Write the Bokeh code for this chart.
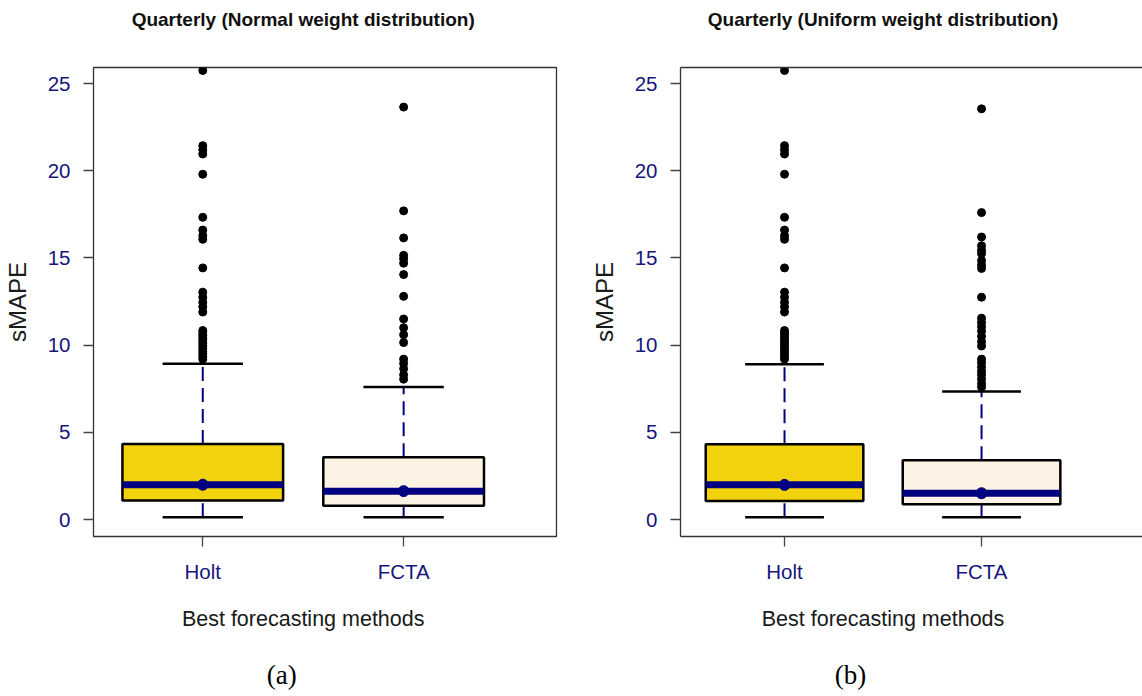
from bokeh.plotting import figure
from bokeh.layouts import row
from bokeh.models import FixedTicker, Range1d, LinearAxis
from bokeh.embed import file_html
from bokeh.resources import INLINE

# ---------------- data ----------------
categories = ["Holt", "FCTA"]
panel_titles = ["Quarterly (Normal weight distribution)", "Quarterly (Uniform weight distribution)"]
panel_tags = ["(a)", "(b)"]
x_title = "Best forecasting methods"
y_title = "sMAPE"
y_ticks = [0, 5, 10, 15, 20, 25]

# box statistics per panel: [Holt, FCTA]
a_lower = [0.13, 0.13]
a_q1 = [1.09, 0.79]
a_median = [2.00, 1.63]
a_q3 = [4.33, 3.58]
a_upper = [8.93, 7.60]

b_lower = [0.13, 0.13]
b_q1 = [1.07, 0.88]
b_median = [1.99, 1.51]
b_q3 = [4.32, 3.40]
b_upper = [8.91, 7.34]

holt_outliers = [25.75, 21.44, 21.2, 20.96, 19.8, 17.33, 16.6, 16.28, 16.07, 14.43,
                 13.04, 12.75, 12.46, 12.2, 11.9, 10.84, 10.7, 10.55, 10.4, 10.25,
                 10.1, 9.95, 9.8, 9.65, 9.5, 9.35, 9.2]
a_fcta_outliers = [23.65, 17.7, 16.15, 15.15, 14.95, 14.7, 14.05, 12.8, 11.5, 11.0,
                   10.6, 10.15, 9.2, 8.95, 8.65, 8.3, 8.05]
b_fcta_outliers = [23.55, 17.6, 16.2, 15.7, 15.45, 15.25, 14.85, 14.6, 14.4, 12.75,
                   11.55, 11.3, 11.05, 10.8, 10.5, 10.2, 9.95, 9.2, 9.0, 8.75,
                   8.5, 8.3, 8.05, 7.8, 7.6]

box_colors = ["#F2D20C", "#FDF3E5"]
NAVY = "#000080"
TICK_TEXT = "#16167C"
FONT = "Liberation Sans"


def text_axis(pos, text, font, size, style, standoff, color, line_color=None):
    """An axis with a single labelled tick, used to place caption texts."""
    ax = LinearAxis(ticker=FixedTicker(ticks=[pos]),
                    major_label_overrides={pos: text},
                    axis_line_color=line_color, axis_line_width=1.3,
                    major_tick_line_color=None, minor_tick_line_color=None,
                    major_tick_out=0, major_tick_in=0,
                    major_label_text_font=font, major_label_text_font_size=size,
                    major_label_text_font_style=style,
                    major_label_text_color=color,
                    major_label_standoff=standoff)
    return ax


def make_panel(idx, lower, q1, med, q3, upper, outliers, width, border_left,
               border_right, xr, tag_pos, full_outline):
    p = figure(width=width, height=696, output_backend="svg", toolbar_location=None,
               x_range=Range1d(*xr), y_range=Range1d(-0.97, 25.92),
               min_border_left=border_left, min_border_right=border_right,
               min_border_top=67, min_border_bottom=160)
    p.grid.visible = False
    p.background_fill_color = "white"
    p.border_fill_color = "white"
    if full_outline:
        p.outline_line_color = "#333333"
        p.outline_line_width = 1.3
        axis_line = None
    else:
        p.outline_line_color = None
        axis_line = "#333333"

    xs = [i + 1 for i in range(len(categories))]

    # whiskers
    p.segment(x0=xs, y0=q3, x1=xs, y1=upper, line_color=NAVY, line_width=2,
              line_dash="14 7")
    p.segment(x0=xs, y0=lower, x1=xs, y1=q1, line_color=NAVY, line_width=2,
              line_dash="14 7")
    # caps
    p.segment(x0=[x - 0.2 for x in xs], y0=upper, x1=[x + 0.2 for x in xs], y1=upper,
              line_color="black", line_width=2.5)
    p.segment(x0=[x - 0.2 for x in xs], y0=lower, x1=[x + 0.2 for x in xs], y1=lower,
              line_color="black", line_width=2.5)
    # boxes
    p.quad(left=[x - 0.4 for x in xs], right=[x + 0.4 for x in xs], bottom=q1, top=q3,
           fill_color=box_colors, line_color="black", line_width=2.5)
    # medians
    p.segment(x0=[x - 0.4 for x in xs], y0=med, x1=[x + 0.4 for x in xs], y1=med,
              line_color=NAVY, line_width=7, line_cap="butt")
    p.scatter(x=xs, y=med, size=11, color=NAVY)
    # outliers
    for x, vals in zip(xs, outliers):
        p.scatter(x=[x] * len(vals), y=vals, size=8, color="black")

    # axes
    p.xaxis.ticker = FixedTicker(ticks=xs)
    p.xaxis.major_label_overrides = {x: c for x, c in zip(xs, categories)}
    p.yaxis.ticker = FixedTicker(ticks=y_ticks)
    for ax in (p.xaxis[0], p.yaxis[0]):
        ax.axis_line_color = axis_line
        ax.axis_line_width = 1.3
        ax.major_tick_line_color = "#444444"
        ax.major_tick_line_width = 1.3
        ax.major_tick_out = 10
        ax.major_tick_in = 0
        ax.minor_tick_line_color = None
        ax.major_label_text_color = TICK_TEXT
        ax.major_label_text_font = FONT
        ax.major_label_text_font_size = "20.5px"
        ax.major_label_standoff = 13
    p.yaxis.axis_label = y_title
    p.yaxis.axis_label_text_font = FONT
    p.yaxis.axis_label_text_font_size = "24px"
    p.yaxis.axis_label_text_font_style = "normal"
    p.yaxis.axis_label_text_color = "#1a1a1a"
    p.yaxis.axis_label_standoff = 14

    mid = (xs[0] + xs[-1]) / 2
    # title above (its axis line doubles as the top frame border for panel b)
    p.add_layout(text_axis(mid, panel_titles[idx], FONT, "19px", "bold", 38,
                           "#111111", line_color=axis_line), "above")
    # x-axis title and panel tag below
    p.add_layout(text_axis(mid, x_title, FONT, "21.5px", "normal", 21, "#1a1a1a"),
                 "below")
    p.add_layout(text_axis(tag_pos, panel_tags[idx], "Liberation Serif", "27px",
                           "normal", 26, "black"), "below")
    return p


p1 = make_panel(0, a_lower, a_q1, a_median, a_q3, a_upper,
                [holt_outliers, a_fcta_outliers], 570, 91, 14,
                (0.456, 2.761), 1.393, True)
p2 = make_panel(1, b_lower, b_q1, b_median, b_q3, b_upper,
                [holt_outliers, b_fcta_outliers], 572, 110, 0,
                (0.472, 2.817), 1.335, False)

p = row(p1, p2)
open("out.html", "w").write(file_html(p, INLINE))
